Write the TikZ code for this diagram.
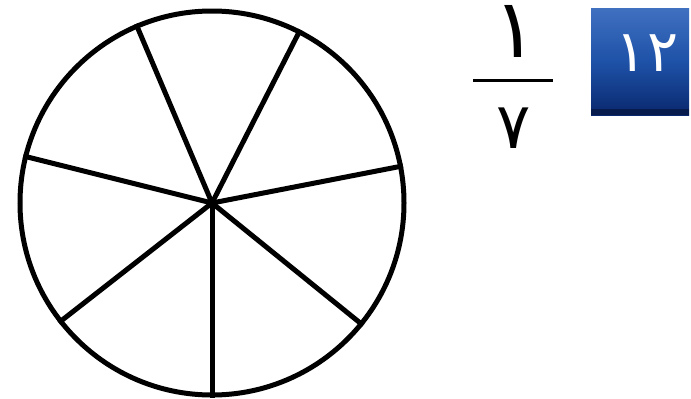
\documentclass[tikz,border=0pt]{standalone}
\usepackage{fontspec}
\newfontfamily\arabicfont[Script=Arabic]{DejaVu Sans}
\definecolor{boxtop}{RGB}{64,112,192}
\definecolor{boxmid}{RGB}{30,82,168}
\definecolor{boxbot}{RGB}{10,40,110}
\tikzset{
  wheel/.style={circle, draw=black, line width=5pt, minimum size=384pt, inner sep=0pt},
  spoke/.style={draw=black, line width=5pt},
  digit/.style={inner sep=0pt, font=\arabicfont\fontsize{82}{88}\selectfont},
  smalldigit/.style={inner sep=0pt, font=\arabicfont\fontsize{64}{70}\selectfont},
  numbox/.style={rectangle, inner sep=0pt, minimum width=98pt, minimum height=107pt,
    top color=boxtop, bottom color=boxbot, middle color=boxmid, shading angle=0},
  boxdigit/.style={inner sep=0pt, text=white, font=\arabicfont\fontsize{58}{64}\selectfont}
}
\begin{document}
\begin{tikzpicture}[x=1pt,y=-1pt]
\useasboundingbox (0,0) rectangle (691,399);
\fill[white] (0,0) rectangle (691,399);
% wheel
\node[wheel] (W) at (212,203) {};
\coordinate (c) at (212,203);
\foreach \a in {113.6,63.7,11.4,-39.1,-90,-142.6,166.3}{
  \draw[spoke, line cap=butt] (c) -- (W.\a);
}
% fraction
\node[digit] (num) at (516,31) {١};
\coordinate (fl) at (473,80);
\coordinate (fr) at (553,80);
\draw[line width=3pt] (fl) -- (fr);
\node[smalldigit] (den) at (514,128) {٧};
% number box
\node[numbox] (B) at (640,61.5) {};
\fill[boxbot!70!black] ([yshift=6pt]B.south west) rectangle (B.south east);
\node[boxdigit] (lbl) at (647,53) {١٢};
\end{tikzpicture}
\end{document}
